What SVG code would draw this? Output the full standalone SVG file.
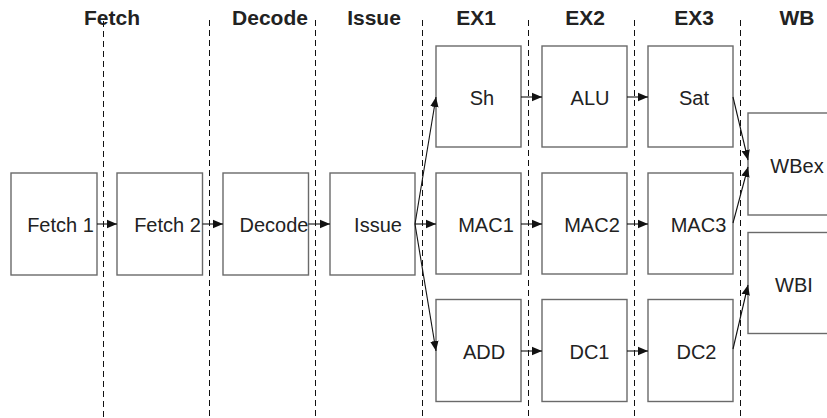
<svg xmlns="http://www.w3.org/2000/svg" width="827" height="418" viewBox="0 0 827 418">
<defs>
<marker id="ah" markerUnits="userSpaceOnUse" markerWidth="10" markerHeight="10" viewBox="0 0 10 10" refX="10" refY="5" orient="auto">
<path d="M0,0.8 L10,5 L0,9.2 Z" fill="#111"/>
</marker>
</defs>
<style>
.bx{fill:#fff;stroke:#6a6a6a;stroke-width:1.4}
.t{font-family:"Liberation Sans",Arial,sans-serif;font-size:20px;fill:#222;text-anchor:middle}
.h{font-family:"Liberation Sans",Arial,sans-serif;font-size:21px;font-weight:bold;fill:#222;text-anchor:middle}
.d{stroke:#111;stroke-width:1;stroke-dasharray:6,4;fill:none}
.c{stroke:#111;stroke-width:1.1;fill:none;marker-end:url(#ah)}
</style>
<rect width="827" height="418" fill="#fff"/>
<g id="headings">
<text class="h" x="112" y="25">Fetch</text>
<text class="h" x="270" y="25">Decode</text>
<text class="h" x="374" y="25">Issue</text>
<text class="h" x="476" y="25">EX1</text>
<text class="h" x="585" y="25">EX2</text>
<text class="h" x="694" y="25">EX3</text>
<text class="h" x="797" y="25">WB</text>
</g>
<g id="stage-dividers">
<line class="d" x1="103.5" y1="21" x2="103.5" y2="418"/>
<line class="d" x1="209.5" y1="20" x2="209.5" y2="418"/>
<line class="d" x1="315.5" y1="20" x2="315.5" y2="418"/>
<line class="d" x1="422.5" y1="20" x2="422.5" y2="418"/>
<line class="d" x1="528.5" y1="20" x2="528.5" y2="418"/>
<line class="d" x1="634.5" y1="20" x2="634.5" y2="418"/>
<line class="d" x1="740.5" y1="20" x2="740.5" y2="418"/>
</g>
<g id="fetch1"><rect class="bx" x="11" y="173" width="86" height="102"/><text class="t" x="60.5" y="231.5">Fetch 1</text></g>
<g id="fetch2"><rect class="bx" x="117" y="173" width="85.5" height="102"/><text class="t" x="167.5" y="231.5">Fetch 2</text></g>
<g id="decode"><rect class="bx" x="223" y="173" width="85.5" height="102"/><text class="t" x="274" y="231.5">Decode</text></g>
<g id="issue"><rect class="bx" x="330" y="173" width="85" height="102"/><text class="t" x="378" y="231.5">Issue</text></g>
<g id="sh"><rect class="bx" x="436" y="46" width="85" height="101"/><text class="t" x="482" y="104.5">Sh</text></g>
<g id="alu"><rect class="bx" x="542" y="46" width="85" height="101"/><text class="t" x="590" y="104.5">ALU</text></g>
<g id="sat"><rect class="bx" x="648" y="46" width="85" height="101"/><text class="t" x="694" y="104.5">Sat</text></g>
<g id="mac1"><rect class="bx" x="436" y="173" width="85" height="101"/><text class="t" x="486" y="231.5">MAC1</text></g>
<g id="mac2"><rect class="bx" x="542" y="173" width="85" height="101"/><text class="t" x="592" y="231.5">MAC2</text></g>
<g id="mac3"><rect class="bx" x="648" y="173" width="85" height="101"/><text class="t" x="698.5" y="231.5">MAC3</text></g>
<g id="add"><rect class="bx" x="436" y="299.5" width="85" height="102"/><text class="t" x="484" y="358.5">ADD</text></g>
<g id="dc1"><rect class="bx" x="542" y="299.5" width="85" height="102"/><text class="t" x="589.5" y="358.5">DC1</text></g>
<g id="dc2"><rect class="bx" x="648" y="299.5" width="85" height="102"/><text class="t" x="696.5" y="358.5">DC2</text></g>
<g id="wbex"><rect class="bx" x="748" y="113" width="100" height="102"/><text class="t" x="797" y="173">WBex</text></g>
<g id="wbi"><rect class="bx" x="748" y="232.5" width="100" height="101"/><text class="t" x="794" y="291.5">WBI</text></g>
<g id="connectors">
<line class="c" x1="97" y1="224" x2="117" y2="224"/>
<line class="c" x1="202.5" y1="224" x2="223" y2="224"/>
<line class="c" x1="308.5" y1="224" x2="330" y2="224"/>
<line class="c" x1="415" y1="224" x2="436" y2="224"/>
<line class="c" x1="415" y1="224" x2="436" y2="97"/>
<line class="c" x1="415" y1="224" x2="436" y2="351"/>
<line class="c" x1="521" y1="224" x2="542" y2="224"/>
<line class="c" x1="627" y1="224" x2="648" y2="224"/>
<line class="c" x1="521" y1="97" x2="542" y2="97"/>
<line class="c" x1="627" y1="97" x2="648" y2="97"/>
<line class="c" x1="521" y1="351" x2="542" y2="351"/>
<line class="c" x1="627" y1="351" x2="648" y2="351"/>
<line class="c" x1="733" y1="97" x2="748" y2="160"/>
<line class="c" x1="733" y1="223" x2="748" y2="167"/>
<line class="c" x1="733" y1="349" x2="748" y2="285"/>
</g>
</svg>
